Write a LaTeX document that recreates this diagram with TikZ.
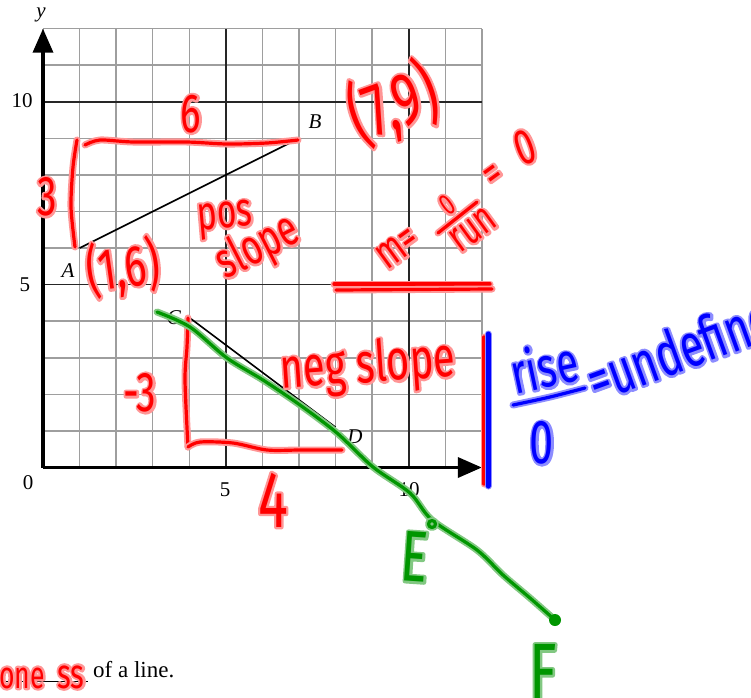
\documentclass[tikz,border=0pt]{standalone}
\usepackage{fontspec}
\setmainfont{Liberation Serif}
\newfontfamily\hand[FakeStretch=0.7]{Fira Sans}
\usetikzlibrary{arrows.meta}
\definecolor{inkred}{RGB}{255,0,0}
\definecolor{halored}{RGB}{255,150,150}
\definecolor{inkblue}{RGB}{0,0,255}
\definecolor{haloblue}{RGB}{140,140,255}
\definecolor{inkgreen}{RGB}{0,150,0}
\definecolor{halogreen}{RGB}{130,200,130}
\newcommand\hwtext[3]{\makebox[0pt][l]{\color{#1}\special{pdf:literal direct 1 Tr 4.5 w 1 j 1 J}#3\special{pdf:literal direct 0 Tr}}{\color{#2}#3}}
\newcommand\hr[1]{\hwtext{halored}{inkred}{#1}}
\newcommand\hb[1]{\hwtext{haloblue}{inkblue}{#1}}
\newcommand\hg[1]{\hwtext{halogreen}{inkgreen}{#1}}
\tikzset{
  minorgrid/.style={draw=black!38, line width=1.5pt},
  majorgrid/.style={draw=black!85, line width=1.6pt},
  axisline/.style={draw=black, line width=3.5pt, -{Triangle[length=24pt,width=20pt]}},
  segline/.style={draw=black, line width=1.6pt},
  lbl/.style={inner sep=0pt, font=\fontsize{21}{21}\selectfont},
  hsz/.style={inner sep=0pt, font=\hand\fontsize{#1}{#1}\selectfont},
  redink/.style={draw=inkred, line width=3.2pt, line cap=round, line join=round,
    preaction={draw=halored, line width=7pt, line cap=round, line join=round}},
  blueink/.style={draw=inkblue, line width=3.2pt, line cap=round, line join=round,
    preaction={draw=haloblue, line width=7pt, line cap=round, line join=round}},
  greenink/.style={draw=inkgreen, line width=3.2pt, line cap=round, line join=round,
    preaction={draw=halogreen, line width=7pt, line cap=round, line join=round}},
}
\begin{document}
\begin{tikzpicture}[x=1pt,y=-1pt]
\useasboundingbox (0,0) rectangle (751,697);
\clip (0,0) rectangle (751,697);
\fill[white] (0,0) rectangle (751,697);
% ---- grid and axes
\begin{scope}[shift={(43,467.5)}, x=36.57pt, y=36.57pt]
  \draw[minorgrid, step={(1,1)}] (0,0) grid (12,12);
  \draw[majorgrid] (5,0) -- (5,12) (10,0) -- (10,12) (0,5) -- (12,5) (0,10) -- (12,10);
  \coordinate (O) at (0,0);
  \coordinate (Ytip) at (0,12);
  \coordinate (Xtip) at (12,0);
  \draw[axisline] (O) -- (Ytip);
  \draw[axisline] (O) -- (Xtip);
  \coordinate (A) at (1,6);
  \coordinate (B) at (7,9);
  \coordinate (C) at (4,4.1);
  \coordinate (D) at (8,1.1);
  \draw[segline] (A) -- (B);
  \draw[segline] (C) -- (D);
\end{scope}
% ---- printed labels
\node[lbl] (ylab) at (41,15) {\itshape y};
\node[lbl] (t10y) at (22,101) {10};
\node[lbl] (t5y) at (25,285) {5};
\node[lbl] (t0) at (28,483) {0};
\node[lbl] (t5x) at (225,490) {5};
\node[lbl] (t10x) at (409,490) {10};
\node[lbl] (la) at (68,271) {\itshape A};
\node[lbl] (lb) at (315,122) {\itshape B};
\node[lbl] (lc) at (174,318) {\itshape C};
\node[lbl] (ld) at (355,437) {\itshape D};
\node[inner sep=0pt, anchor=base west, font=\fontsize{23}{23}\selectfont] (ofline) at (93,677) {of a line.};
\draw[black, line width=0.9pt] (0,681) -- (88,681);
% ---- red annotations (upper triangle)
\draw[redink] plot[smooth] coordinates {(85,145) (100,140) (133,142) (187,142) (227,144) (267,143) (298,140)};
\draw[redink] plot[smooth] coordinates {(77,140) (73,167) (71,207) (75,247)};
\node[hsz=55] (r6) at (191,114) {\hr{6}};
\node[hsz=56] (r3) at (47,197) {\hr{3}};
\node[hsz=74, rotate=20] (r79) at (393,104) {\hr{(7,9)}};
\node[hsz=58, rotate=8] (r16) at (123,268) {\hr{(1,6)}};
\node[hsz=48, rotate=5] (rpos) at (225,220) {\hr{pos}};
\node[hsz=50, rotate=27] (rslope) at (258,248) {\hr{slope}};
% m = 0/run = 0
\node[hsz=46, rotate=36] (rm) at (398,248) {\hr{m=}};
\node[hsz=30, rotate=36] (rnum) at (447,205) {\hr{0}};
\draw[redink] (438,233) -- (477,202);
\node[hsz=44, rotate=36] (rrun) at (473,230) {\hr{run}};
\node[hsz=46, rotate=36] (req) at (495,177) {\hr{=}};
\node[hsz=50, rotate=20] (rzero) at (525,147) {\hr{0}};
\draw[redink] (334,284) -- (490,284);
\draw[redink] (336,290) -- (492,289);
% ---- red annotations (lower triangle)
\draw[redink] plot[smooth] coordinates {(188,318) (187,347) (185,380) (188,447)};
\draw[redink] plot[smooth] coordinates {(188,447) (200,442) (233,443) (267,450) (300,450) (342,450)};
\node[hsz=56] (rm3) at (140,393) {\hr{-3}};
\node[hsz=57, rotate=4] (rneg) at (368,367) {\hr{neg slope}};
\node[hsz=80] (r4) at (273,500) {\hr{4}};
\node[hsz=38] (rone) at (22,678) {\hr{one}};
\node[hsz=42] (rss) at (71,677) {\hr{ss}};
% ---- blue annotations
\draw[redink] (484,337) -- (484,484);
\draw[blueink, line width=5pt] (488,334) -- (488,486);
\node[hsz=57, rotate=12] (brise) at (544,366) {\hb{rise}};
\draw[blueink] plot[smooth] coordinates {(513,405) (550,397) (585,388)};
\node[hsz=62] (bzero) at (542,443) {\hb{0}};
\node[hsz=61, rotate=20, anchor=base west] (bund) at (596,403) {\hb{=undefined}};
% ---- green annotations
\draw[greenink] plot[smooth] coordinates {(157,312) (190,327) (227,358) (263,380) (300,405) (337,433) (373,467) (410,493) (432,520) (477,550) (503,575) (530,598) (555,620)};
\draw[greenink] (432,524) circle[radius=3.5pt];
\fill[inkgreen] (555,620) circle[radius=6pt];
\node[hsz=72, rotate=-4] (ge) at (415,557) {\hg{E}};
\node[hsz=80] (gf) at (543,672) {\hg{F}};
\end{tikzpicture}
\end{document}
